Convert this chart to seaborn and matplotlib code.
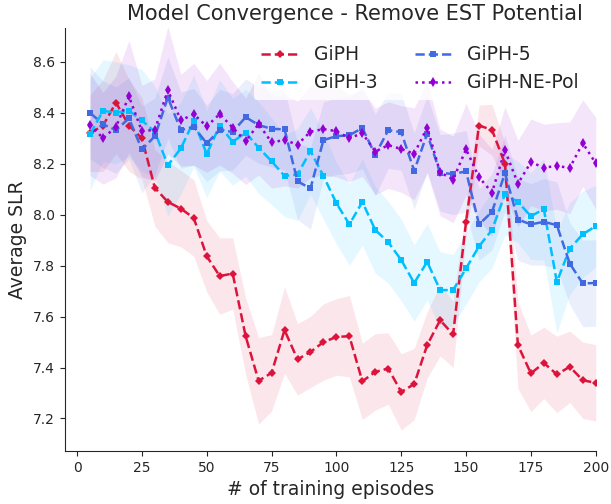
import numpy as np
import pandas as pd
import seaborn as sns
import matplotlib
matplotlib.use("Agg")
import matplotlib.pyplot as plt

# episodes (x axis)
episodes = [5, 10, 15, 20, 25, 30, 35, 40, 45, 50, 55, 60, 65, 70, 75, 80, 85, 90, 95, 100,
            105, 110, 115, 120, 125, 130, 135, 140, 145, 150, 155, 160, 165, 170, 175, 180, 185, 190, 195, 200]

# mean SLR per series
giph = [8.32, 8.35, 8.44, 8.35, 8.30, 8.105, 8.05, 8.024, 7.987, 7.837, 7.759, 7.769, 7.523, 7.348, 7.379, 7.547,
        7.432, 7.461, 7.50, 7.52, 7.523, 7.346, 7.383, 7.396, 7.304, 7.335, 7.488, 7.586, 7.53, 7.972,
        8.35, 8.333, 8.20, 7.488, 7.377, 7.418, 7.373, 7.403, 7.35, 7.34]
giph3 = [8.316, 8.408, 8.40, 8.408, 8.37, 8.325, 8.194, 8.26, 8.368, 8.238, 8.35, 8.286, 8.322, 8.263, 8.21, 8.152,
         8.158, 8.25, 8.152, 8.045, 7.962, 8.05, 7.94, 7.892, 7.822, 7.732, 7.815, 7.704, 7.704, 7.789,
         7.876, 7.94, 8.08, 8.05, 7.994, 8.022, 7.736, 7.867, 7.923, 7.955]
giph5 = [8.40, 8.355, 8.332, 8.378, 8.256, 8.308, 8.46, 8.332, 8.345, 8.28, 8.332, 8.325, 8.383, 8.352, 8.337, 8.335,
         8.131, 8.103, 8.293, 8.308, 8.312, 8.34, 8.235, 8.332, 8.324, 8.172, 8.318, 8.164, 8.16, 8.17,
         7.962, 8.011, 8.163, 7.981, 7.962, 7.972, 7.959, 7.808, 7.73, 7.732]
giph_ne_pol = [8.354, 8.30, 8.345, 8.464, 8.328, 8.333, 8.489, 8.371, 8.394, 8.347, 8.395, 8.342, 8.288, 8.356, 8.284, 8.293,
               8.275, 8.326, 8.336, 8.328, 8.30, 8.32, 8.248, 8.273, 8.258, 8.239, 8.342, 8.166, 8.138, 8.257,
               8.147, 8.087, 8.253, 8.122, 8.206, 8.185, 8.191, 8.184, 8.281, 8.202]

# half width of the shaded bands
giph_sd = [0.15, 0.18, 0.2, 0.18, 0.16, 0.15, 0.16, 0.15, 0.15, 0.14, 0.15, 0.14, 0.15, 0.17, 0.15, 0.17,
           0.14, 0.14, 0.15, 0.15, 0.16, 0.15, 0.15, 0.14, 0.15, 0.14, 0.13, 0.14, 0.13, 0.06,
           0.08, 0.1, 0.08, 0.17, 0.15, 0.14, 0.15, 0.14, 0.15, 0.15]
giph3_sd = [0.22, 0.2, 0.2, 0.18, 0.2, 0.18, 0.2, 0.18, 0.18, 0.17, 0.18, 0.17, 0.17, 0.18, 0.17, 0.16,
            0.18, 0.17, 0.17, 0.16, 0.16, 0.17, 0.17, 0.16, 0.16, 0.15, 0.15, 0.15, 0.14, 0.14,
            0.14, 0.15, 0.16, 0.16, 0.17, 0.2, 0.2, 0.18, 0.17, 0.16]
giph5_sd = [0.18, 0.17, 0.17, 0.16, 0.17, 0.15, 0.16, 0.15, 0.15, 0.15, 0.16, 0.15, 0.15, 0.15, 0.15, 0.16,
            0.15, 0.16, 0.15, 0.15, 0.15, 0.16, 0.16, 0.15, 0.15, 0.15, 0.15, 0.15, 0.16, 0.16,
            0.14, 0.15, 0.15, 0.16, 0.16, 0.17, 0.17, 0.16, 0.17, 0.17]
giph_ne_pol_sd = [0.2, 0.18, 0.2, 0.22, 0.18, 0.2, 0.25, 0.18, 0.2, 0.18, 0.2, 0.18, 0.17, 0.2, 0.18, 0.18,
                  0.17, 0.18, 0.18, 0.18, 0.17, 0.17, 0.17, 0.17, 0.17, 0.18, 0.18, 0.17, 0.17, 0.18,
                  0.17, 0.17, 0.17, 0.17, 0.17, 0.17, 0.17, 0.18, 0.17, 0.18]

series = [
    ("GiPH", giph, giph_sd, "crimson", "D", "--", 4.5),
    ("GiPH-3", giph3, giph3_sd, "deepskyblue", "s", "--", 4.5),
    ("GiPH-5", giph5, giph5_sd, "royalblue", "s", "--", 4.5),
    ("GiPH-NE-Pol", giph_ne_pol, giph_ne_pol_sd, "darkviolet", "d", ":", 5.5),
]

sns.set_style("ticks")
plt.rcParams['font.family'] = ['DejaVu Sans']

fig = plt.figure(figsize=(6.11, 5.04), dpi=100)
ax = fig.add_axes([0.106, 0.105, 0.869, 0.839])

for name, vals, sd, color, marker, ls, ms in series:
    df = pd.DataFrame({"episode": episodes, "slr": vals})
    sns.lineplot(data=df, x="episode", y="slr", ax=ax, color=color, marker=marker,
                 linestyle=ls, linewidth=1.8, markersize=ms, markeredgewidth=0,
                 label=name, errorbar=None)
    lo = np.array(vals) - np.array(sd)
    hi = np.array(vals) + np.array(sd)
    ax.fill_between(episodes, lo, hi, color=color, alpha=0.1, linewidth=0)

ax.set_xlim(-4.75, 200)
ax.set_ylim(7.072, 8.732)
ax.set_xticks([0, 25, 50, 75, 100, 125, 150, 175, 200])
ax.set_yticks([7.2, 7.4, 7.6, 7.8, 8.0, 8.2, 8.4, 8.6])
ax.tick_params(labelsize=10)
ax.set_xlabel("# of training episodes", fontsize=13.5)
ax.set_ylabel("Average SLR", fontsize=13.5)
ax.set_title("Model Convergence - Remove EST Potential", fontsize=15, x=0.546)
sns.despine(ax=ax)

leg = ax.legend(loc="upper right", ncol=2, fontsize=13.5, frameon=True,
                edgecolor="none", facecolor="white", framealpha=0.8)

fig.savefig("out.png", dpi=100)
